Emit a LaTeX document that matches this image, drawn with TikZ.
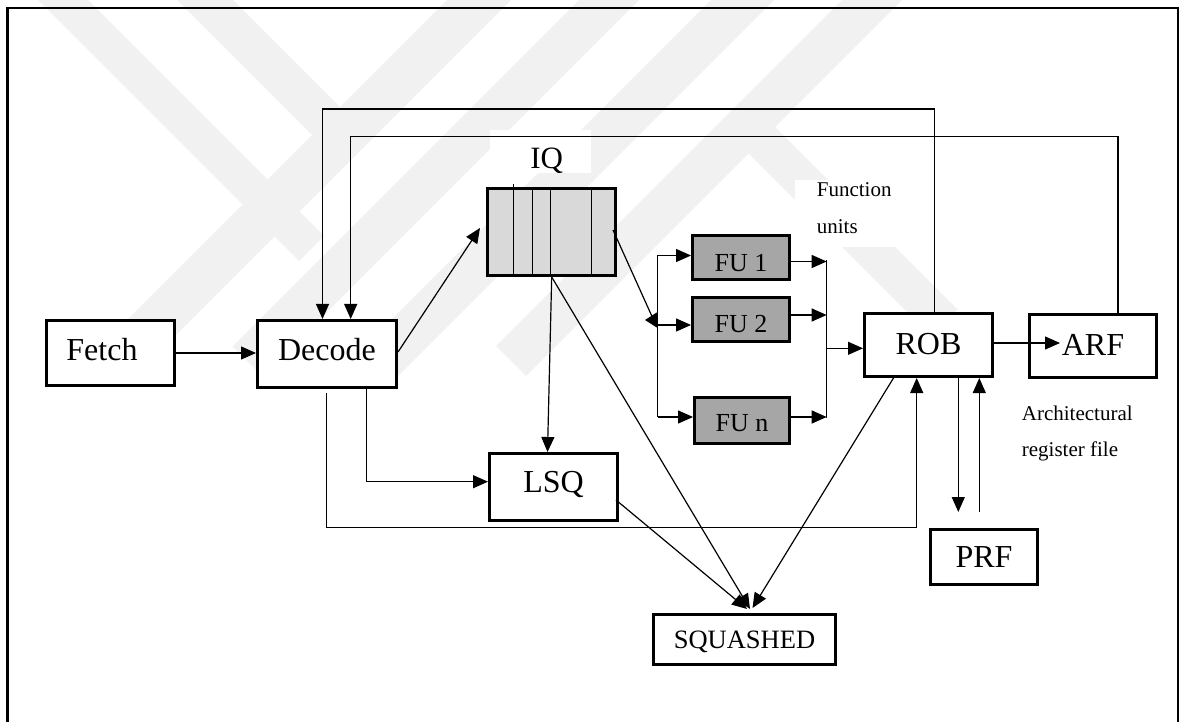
\documentclass[tikz,border=0pt]{standalone}
\usepackage{fontspec}
\setmainfont{Liberation Serif}
\usetikzlibrary{arrows.meta,calc}
\definecolor{iqgray}{RGB}{217,217,217}
\definecolor{fugray}{RGB}{166,166,166}
\definecolor{wmgray}{RGB}{241,241,241}
\begin{document}
\begin{tikzpicture}[x=1pt,y=-1pt,
  box/.style={draw, line width=2.8pt, fill=white, inner sep=0pt,
              font=\fontsize{32}{36}\selectfont, text height=21.2pt, text depth=0pt},
  fubox/.style={box, fill=fugray, line width=2.7pt, font=\fontsize{26}{30}\selectfont},
  conn/.style={line width=1.2pt},
  arr/.style={line width=1.2pt, -{Triangle[length=15pt,width=13pt]}},
  lbl/.style={inner sep=0pt, font=\fontsize{21}{24}\selectfont, anchor=base west},
  wm/.style={fill=wmgray}]
\useasboundingbox (0,0) rectangle (1179,722);

% faint watermark bands
\fill[wm] (457,-10) -- (521,-10) -- (130.5,380.5) -- (98.5,348.5) -- cycle;
\fill[wm] (589,-10) -- (649,-10) -- (262.5,376.5) -- (232.5,346.5) -- cycle;
\fill[wm] (721,-10) -- (784,-10) -- (396,378) -- (364.5,346.5) -- cycle;
\fill[wm] (852,-10) -- (912,-10) -- (526,376) -- (496,346) -- cycle;
\fill[wm] (28,-10) -- (78,-10) -- (324,236) -- (299,261) -- cycle;
\fill[wm] (167,-10) -- (223,-10) -- (351.5,118.5) -- (323.5,146.5) -- cycle;
\fill[wm] (727.5,132.5) -- (754,106) -- (957.5,309.5) -- (931,336) -- cycle;

% outer frame
\draw[line width=2.7pt] (7.5,730) -- (7.5,8) -- (1178,8) -- (1178,730);

% label backgrounds and labels
\fill[white] (490,130) rectangle (591,173);
\fill[white] (795,180) rectangle (900,247);
\node[inner sep=0pt, font=\fontsize{31}{36}\selectfont, anchor=base] (iql) at (546.7,168.3) {IQ};
\node[lbl] (fn1) at (816.7,196.7) {Function};
\node[lbl] (fn2) at (816.7,233.3) {units};
\node[lbl] (ar1) at (1021.7,420.7) {Architectural};
\node[lbl] (ar2) at (1021.7,456.7) {register file};

% boxes
\node[box, minimum width=128.2, minimum height=65.2, text depth=7pt] (fetch) at (110.5,353) {Fetch\kern17pt};
\node[box, minimum width=139.2, minimum height=67.2, text depth=8.6pt] (decode) at (327,354) {Decode};
\node[box, fill=iqgray, minimum width=128.2, minimum height=87.2] (iq) at (551.5,232) {};
\node[fubox, minimum width=97.2, minimum height=44.2, text height=27.8pt] (fu1) at (741,257.5) {FU 1};
\node[fubox, minimum width=97.2, minimum height=44.2, text height=26.2pt] (fu2) at (741,319.5) {FU 2};
\node[fubox, minimum width=95.2, minimum height=46.2, text height=21.2pt] (fun) at (742,420.5) {FU n};
\node[box, minimum width=128.2, minimum height=63.2, text depth=2pt] (rob) at (928.5,345) {ROB};
\node[box, minimum width=127.2, minimum height=63.2, text depth=3pt] (arf) at (1093,346) {ARF};
\node[box, minimum width=128.2, minimum height=67.2, text depth=10pt] (lsq) at (553.5,487) {LSQ};
\node[box, minimum width=182.2, minimum height=50.2, font=\fontsize{26.5}{30}\selectfont, text height=17.5pt] (sq) at (744.5,639.5) {SQUASHED};
\node[box, minimum width=107.2, minimum height=55.2] (prf) at (984,557) {PRF};

% IQ slots
\draw[conn] (513.3,184) -- (513.3,277);
\draw[conn] (532.7,187) -- (532.7,277);
\draw[conn] (550.7,187) -- (550.7,277);
\draw[conn] (591.3,187) -- (591.3,274);

% coordinates
\coordinate (topA) at (0,109);
\coordinate (topB) at (0,136.5);
\coordinate (botY) at (0,527.7);
\coordinate (robtop) at ($(rob.north)+(6,0)$);
\coordinate (arftop) at ($(arf.north)+(25,0)$);
\coordinate (dectop1) at ($(decode.north)+(-4.5,0)$);
\coordinate (dectop2) at ($(decode.north)+(23.7,0)$);
\coordinate (busj) at (657.5,320);
\coordinate (bl1) at (657.7,255.5);
\coordinate (bl2) at (657.7,325);
\coordinate (bln) at (657.7,417);
\coordinate (br1) at (826.7,261.5);
\coordinate (br2) at (826.7,315);
\coordinate (brn) at (826.7,417);
\coordinate (brm) at (826.7,348.3);
\coordinate (iqb) at ($(iq.south)+(0.2,0)$);
\coordinate (d1) at ($(decode.south)+(-0.3,4)$);
\coordinate (d2) at ($(decode.south)+(39.7,0)$);
\coordinate (lsqin) at ($(lsq.west)+(0,-5.3)$);
\coordinate (robb) at ($(rob.south)+(-11.8,0)$);
\coordinate (rp1) at ($(rob.south)+(29.8,0)$);
\coordinate (pr1) at ($(prf.north)+(-4.7,-16)$);

% feedback loops
\draw[arr] (robtop) -- (robtop |- topA) -| (dectop1);
\draw[arr] (arftop) -- (arftop |- topB) -| (dectop2);

% main flow
\draw[arr] (fetch.east) -- (fetch.east -| decode.west);
\draw[arr] ($(decode.east)+(0,-2)$) -- ($(iq.west)+(-6,-4)$);
\draw[conn] ($(iq.east)+(-4,-2)$) -- ($(busj)+(-3,2)$);
\draw[line width=1.2pt, -{Triangle[length=12pt,width=15pt]}] (busj) -- ++(-12.5,0);
\draw[conn] (bl1) -- (bln);
\draw[arr] (bl1) -- (bl1 -| fu1.west);
\draw[arr] (bl2) -- (bl2 -| fu2.west);
\draw[arr] (bln) -- (bln -| fun.west);
\draw[arr] (fu1.east |- br1) -- (br1);
\draw[arr] (fu2.east |- br2) -- (br2);
\draw[arr] (fun.east |- brn) -- (brn);
\draw[conn] ($(br1)+(0,-1)$) -- ($(brn)+(0,1)$);
\draw[arr] (brm) -- (brm -| rob.west);
\draw[arr] ($(rob.east)+(0,-2)$) -- ($(arf.west)+(32,-3)$);

% LSQ and squash paths
\draw[arr] (iqb) -- ($(lsq.north)+(-6,0)$);
\draw[arr] (iqb) -- ($(sq.north)+(5.5,-4)$);
\draw[arr] (d2) |- (lsqin);
\draw[arr] (d1) -- (d1 |- botY) -| (robb);
\draw[arr] ($(lsq.east)+(-3,13)$) -- ($(sq.north)+(2.5,-4)$);
\draw[arr] ($(rob.south)+(-35,0)$) -- ($(sq.north)+(8,-5)$);

% ROB <-> PRF
\draw[arr] (rp1) -- (rp1 |- pr1);
\draw[arr] (pr1) -- (pr1 |- rob.south);
\end{tikzpicture}
\end{document}
